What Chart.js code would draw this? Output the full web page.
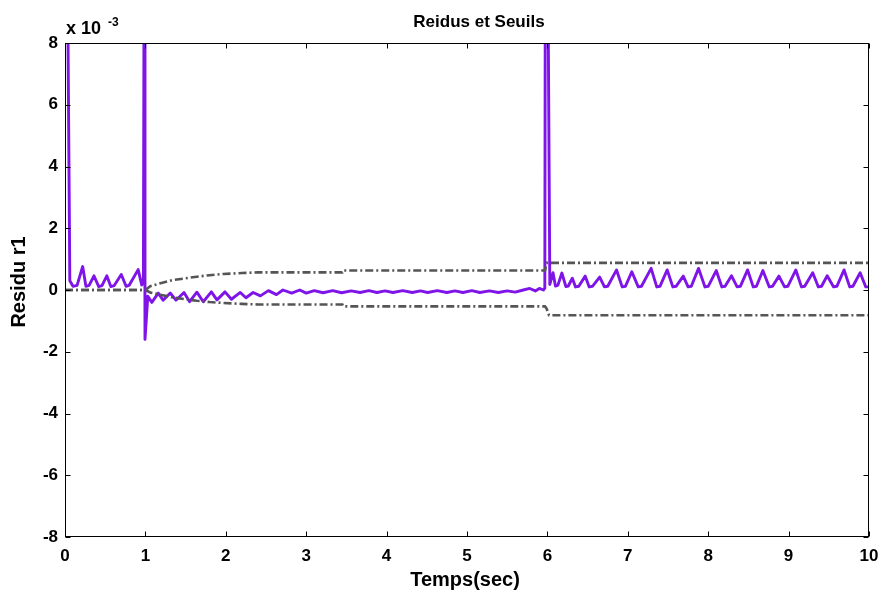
<!DOCTYPE html>
<html>
<head>
<meta charset="utf-8">
<script src="https://cdn.jsdelivr.net/npm/chart.js@4"></script>
<style>
  html, body { margin:0; padding:0; background:#fff; }
  canvas { display:block; }
</style>
</head>
<body>
<canvas id="chart" width="883" height="596"></canvas>
<script>
// ---- Data (values in units of 1e-3) ----
const residuT = [0, 0.035, 0.06, 0.1, 0.15, 0.22, 0.26, 0.30, 0.36, 0.42, 0.46, 0.52, 0.57, 0.61, 0.70, 0.76, 0.80, 0.91, 0.955, 0.975,
  0.987, 0.995, 1.03, 1.08, 1.16, 1.22, 1.31, 1.38, 1.48, 1.55, 1.64, 1.72, 1.82, 1.89, 1.99, 2.07, 2.18, 2.25, 2.34, 2.43,
  2.53, 2.63, 2.71, 2.82, 2.92, 3.0, 3.1, 3.21, 3.33, 3.44, 3.56, 3.67, 3.78, 3.88, 3.98, 4.08, 4.2, 4.32, 4.42, 4.51,
  4.63, 4.75, 4.85, 4.95, 5.06, 5.16, 5.28, 5.39, 5.5, 5.6, 5.7, 5.78, 5.85, 5.9, 5.95, 5.968,
  5.976, 5.998, 6.03, 6.07, 6.10, 6.13, 6.18, 6.23, 6.26, 6.31, 6.35, 6.39, 6.47, 6.52, 6.56, 6.65, 6.71, 6.75,
  6.86, 6.93, 6.97, 7.05, 7.13, 7.17, 7.29, 7.36, 7.40, 7.49, 7.56, 7.60, 7.69, 7.75, 7.79, 7.88, 7.96, 8.0,
  8.1, 8.17, 8.21, 8.29, 8.36, 8.40, 8.49, 8.56, 8.60, 8.68, 8.76, 8.80, 8.88, 8.95, 8.99, 9.09, 9.16, 9.20,
  9.3, 9.37, 9.41, 9.48, 9.56, 9.60, 9.69, 9.76, 9.80, 9.89, 9.96, 10];
const residuV = [14, 9, 0.3, 0.12, 0.15, 0.76, 0.12, 0.15, 0.46, 0.11, 0.14, 0.46, 0.11, 0.14, 0.5, 0.12, 0.16, 0.66, 0.16, 0.3,
  14, -1.6, -0.2, -0.4, -0.1, -0.33, -0.1, -0.33, -0.08, -0.38, -0.07, -0.38, -0.06, -0.32, -0.06, -0.3, -0.08, -0.25, -0.08, -0.19,
  -0.02, -0.15, 0.0, -0.1, 0.0, -0.1, -0.02, -0.09, -0.02, -0.09, -0.03, -0.08, -0.02, -0.08, -0.03, -0.08, -0.02, -0.08, -0.03, -0.08,
  -0.02, -0.08, -0.03, -0.08, -0.02, -0.08, -0.03, -0.08, -0.03, -0.07, 0.0, 0.05, -0.03, 0.05, 0.0, 0.06,
  14, 14, 0.18, 0.56, 0.13, 0.15, 0.55, 0.11, 0.13, 0.38, 0.1, 0.12, 0.45, 0.1, 0.12, 0.42, 0.1, 0.12,
  0.65, 0.1, 0.12, 0.59, 0.1, 0.12, 0.7, 0.1, 0.12, 0.65, 0.1, 0.12, 0.45, 0.1, 0.12, 0.7, 0.1, 0.12,
  0.63, 0.1, 0.12, 0.46, 0.1, 0.12, 0.65, 0.1, 0.12, 0.63, 0.1, 0.12, 0.45, 0.1, 0.12, 0.65, 0.1, 0.12,
  0.56, 0.1, 0.12, 0.46, 0.1, 0.12, 0.65, 0.1, 0.12, 0.56, 0.1, 0.1];

const seuilT    = [0, 1.0, 1.06, 1.2, 1.34, 1.5, 1.64, 1.8, 1.97, 2.2, 2.4, 3.45, 3.46, 5.97, 5.99, 6.02, 10];
const seuilHaut = [0, 0, 0.12, 0.23, 0.32, 0.38, 0.43, 0.48, 0.52, 0.55, 0.57, 0.57, 0.63, 0.63, 0.88, 0.88, 0.88];
const seuilBas  = [0, 0, -0.08, -0.16, -0.24, -0.30, -0.35, -0.39, -0.42, -0.45, -0.47, -0.47, -0.53, -0.53, -0.6, -0.82, -0.82];

const xTicks = [0, 1, 2, 3, 4, 5, 6, 7, 8, 9, 10];
const yTicks = [-8, -6, -4, -2, 0, 2, 4, 6, 8];

const FONT = 'Arial, "Liberation Sans", Helvetica, sans-serif';
const PURPLE = '#7f14e8';
const GREY = '#555555';

const pts = (xs, ys) => xs.map((x, i) => ({ x, y: ys[i] }));

// box, inside ticks, titles (MATLAB look)
const frame = {
  id: 'frame',
  afterDatasetsDraw(chart){
    const { ctx, chartArea: a, scales: { x, y } } = chart;
    const L = Math.round(a.left) + 0.5, R = Math.round(a.right) - 0.5;
    const T = Math.round(a.top) + 0.5, B = Math.round(a.bottom) - 0.5;
    ctx.save();
    ctx.strokeStyle = '#000'; ctx.lineWidth = 1;
    ctx.strokeRect(L, T, R - L, B - T);
    ctx.beginPath();
    xTicks.forEach(v => {
      const px = Math.round(x.getPixelForValue(v)) + 0.5;
      ctx.moveTo(px, B); ctx.lineTo(px, B - 5);
      ctx.moveTo(px, T); ctx.lineTo(px, T + 5);
    });
    yTicks.forEach(v => {
      const py = Math.round(y.getPixelForValue(v)) + 0.5;
      ctx.moveTo(L, py); ctx.lineTo(L + 5, py);
      ctx.moveTo(R, py); ctx.lineTo(R - 5, py);
    });
    ctx.stroke();
    ctx.restore();
  },
  afterDraw(chart){
    const { ctx, chartArea: a } = chart;
    const cx = (a.left + a.right) / 2;
    ctx.save();
    ctx.fillStyle = '#000';
    ctx.textAlign = 'center'; ctx.textBaseline = 'alphabetic';
    ctx.font = 'bold 17px ' + FONT;
    ctx.fillText('Reidus et Seuils', 479, 27);
    ctx.font = 'bold 20px ' + FONT;
    ctx.fillText('Temps(sec)', cx - 2, 586);
    ctx.textAlign = 'left';
    ctx.font = 'bold 18px ' + FONT;
    ctx.fillText('x 10', a.left + 1, 34);
    ctx.font = 'bold 12px ' + FONT;
    ctx.fillText('-3', a.left + 43, 26);
    ctx.translate(25, 282);
    ctx.rotate(-Math.PI / 2);
    ctx.textAlign = 'center';
    ctx.font = 'bold 20px ' + FONT;
    ctx.fillText('Residu r1', 0, 0);
    ctx.restore();
  }
};

new Chart(document.getElementById('chart'), {
  type: 'line',
  data: {
    datasets: [
      { label: 'seuil haut', data: pts(seuilT, seuilHaut), borderColor: GREY, borderWidth: 2.6,
        borderDash: [8, 3, 2, 3], pointRadius: 0, tension: 0, order: 0, clip: 0 },
      { label: 'seuil bas', data: pts(seuilT, seuilBas), borderColor: GREY, borderWidth: 2.6,
        borderDash: [8, 3, 2, 3], pointRadius: 0, tension: 0, order: 0, clip: 0 },
      { label: 'residu r1', data: pts(residuT, residuV), borderColor: PURPLE, borderWidth: 2.9,
        pointRadius: 0, tension: 0, borderJoinStyle: 'round', order: 1, clip: 0 }
    ]
  },
  options: {
    responsive: false,
    animation: false,
    events: [],
    layout: { padding: { top: 43, right: 14, left: 0, bottom: 0 } },
    plugins: { legend: { display: false }, tooltip: { enabled: false }, title: { display: false } },
    scales: {
      x: {
        type: 'linear', min: 0, max: 10,
        afterFit: s => { s.height = 59; s.paddingLeft = 0; s.paddingRight = 0; },
        afterBuildTicks: s => { s.ticks = xTicks.map(v => ({ value: v })); },
        grid: { display: false, drawTicks: false }, border: { display: false },
        ticks: { padding: 9, color: '#000', font: { family: FONT, size: 17, weight: 'bold' }, maxRotation: 0 }
      },
      y: {
        type: 'linear', min: -8, max: 8,
        afterFit: s => { s.width = 65; },
        afterBuildTicks: s => { s.ticks = yTicks.map(v => ({ value: v })); },
        grid: { display: false, drawTicks: false }, border: { display: false },
        ticks: { padding: 7, color: '#000', font: { family: FONT, size: 17, weight: 'bold' } }
      }
    }
  },
  plugins: [frame]
});
</script>
</body>
</html>
